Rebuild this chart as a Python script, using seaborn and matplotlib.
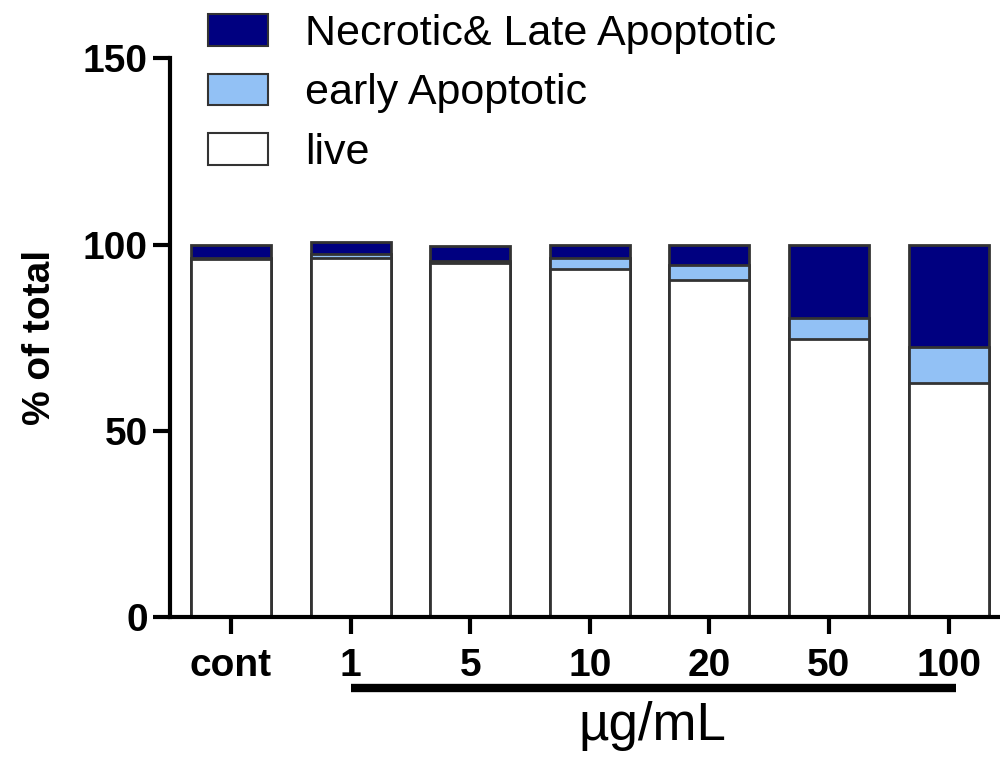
import pandas as pd
import seaborn as sns
import matplotlib.pyplot as plt
import matplotlib.patches as mpatches
from matplotlib.transforms import blended_transform_factory

# values (% of total)
groups = ['cont', '1', '5', '10', '20', '50', '100']
live = [96.0, 96.5, 95.0, 93.3, 90.6, 74.5, 62.7]
early_apoptotic = [0.5, 1.0, 0.6, 3.0, 4.0, 5.9, 9.9]
necrotic_late = [3.5, 3.3, 4.1, 3.7, 5.4, 19.6, 27.4]

df = pd.DataFrame({'group': groups, 'live': live,
                   'early': early_apoptotic, 'necrotic': necrotic_late})
df['live_early'] = df['live'] + df['early']
df['total'] = df['live_early'] + df['necrotic']

sns.set_style('ticks')
plt.rcParams['font.family'] = ['Liberation Sans', 'DejaVu Sans']
plt.rcParams['text.color'] = 'black'
plt.rcParams['axes.labelcolor'] = 'black'
plt.rcParams['xtick.color'] = 'black'
plt.rcParams['ytick.color'] = 'black'
plt.rcParams['axes.edgecolor'] = 'black'

navy = '#000080'
light_blue = '#92c1f5'
edge = '#333333'

fig = plt.figure(figsize=(10, 7.57), dpi=100)
ax = fig.add_axes([0.17, 0.185, 0.83, 0.738])

# stacked look: draw cumulative totals on top of each other
for col, color in [('total', navy), ('live_early', light_blue), ('live', 'white')]:
    sns.barplot(data=df, x='group', y=col, color=color, width=0.67,
                edgecolor=edge, linewidth=2, ax=ax, saturation=1)

ax.set_xlim(-0.51, 6.43)
ax.set_ylim(0, 150)
ax.set_yticks([0, 50, 100, 150])
ax.set_xlabel('')
ax.set_ylabel('% of total', fontsize=28, fontweight='bold', labelpad=18)
ax.tick_params(axis='both', length=12, width=3, labelsize=28, direction='out')
ax.tick_params(axis='x', pad=10)
ax.tick_params(axis='y', pad=4)
for lab in ax.get_xticklabels() + ax.get_yticklabels():
    lab.set_fontweight('bold')
sns.despine(ax=ax)
ax.spines['left'].set_linewidth(3)
ax.spines['bottom'].set_linewidth(3)

# bar under the concentrations and unit label
trans = blended_transform_factory(ax.transData, ax.transAxes)
ax.plot([1.0, 6.06], [-0.127, -0.127], color='black', lw=6,
        transform=trans, clip_on=False, solid_capstyle='butt')
ax.text(3.52, -0.15, 'µg/mL', transform=trans, ha='center', va='top',
        fontsize=38)

handles = [mpatches.Patch(facecolor=navy, edgecolor=edge, lw=1.5, label='Necrotic& Late Apoptotic'),
           mpatches.Patch(facecolor=light_blue, edgecolor=edge, lw=1.5, label='early Apoptotic'),
           mpatches.Patch(facecolor='white', edgecolor=edge, lw=1.5, label='live')]
ax.legend(handles=handles, loc='upper left', bbox_to_anchor=(0.025, 1.11),
          frameon=False, fontsize=31, handlelength=1.4, handleheight=0.75,
          handletextpad=0.85, labelspacing=0.45, borderaxespad=0)

fig.savefig('out.png', dpi=100)
